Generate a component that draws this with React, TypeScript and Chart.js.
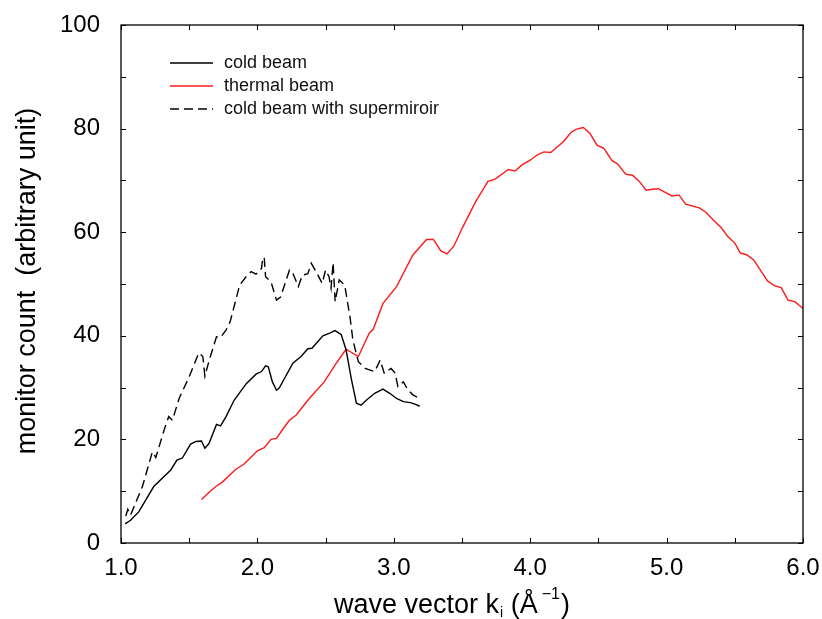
import React, { useEffect, useRef } from "react";
import { Chart, registerables } from "chart.js";

Chart.register(...registerables);

const FONT = "'Liberation Sans', Arial, Helvetica, sans-serif";

const coldX = [1.03, 1.07, 1.13, 1.24, 1.365, 1.41, 1.45, 1.51, 1.55, 1.59, 1.615, 1.645, 1.7, 1.73, 1.77, 1.83, 1.92, 1.99, 2.03, 2.06, 2.08, 2.11, 2.14, 2.16, 2.26, 2.32, 2.37, 2.4, 2.48, 2.53, 2.57, 2.615, 2.65, 2.69, 2.726, 2.76, 2.8, 2.86, 2.92, 2.97, 3.02, 3.07, 3.12, 3.155, 3.19];
const coldY = [3.7, 4.4, 6.0, 10.9, 14.1, 16.0, 16.4, 19.1, 19.6, 19.7, 18.3, 19.2, 22.9, 22.6, 24.4, 27.6, 30.8, 32.6, 33.1, 34.2, 34.0, 31.1, 29.5, 29.9, 34.7, 36.0, 37.5, 37.6, 40.0, 40.5, 41.0, 40.2, 37.3, 31.5, 27.0, 26.6, 27.6, 28.9, 29.7, 28.9, 27.9, 27.3, 27.1, 26.8, 26.4];

const thermalX = [1.59, 1.65, 1.7, 1.745, 1.84, 1.9, 1.94, 2.0, 2.05, 2.1, 2.14, 2.19, 2.235, 2.285, 2.38, 2.49, 2.57, 2.65, 2.74, 2.82, 2.85, 2.92, 3.02, 3.14, 3.24, 3.29, 3.345, 3.39, 3.44, 3.5, 3.6, 3.69, 3.74, 3.84, 3.89, 3.94, 4.0, 4.05, 4.1, 4.15, 4.245, 4.3, 4.34, 4.39, 4.44, 4.49, 4.54, 4.6, 4.64, 4.7, 4.75, 4.8, 4.85, 4.895, 4.94, 4.99, 5.04, 5.09, 5.14, 5.24, 5.29, 5.34, 5.4, 5.45, 5.5, 5.54, 5.59, 5.64, 5.69, 5.74, 5.79, 5.84, 5.89, 5.94, 5.99, 6.0];
const thermalY = [8.4, 9.9, 11.0, 11.8, 14.2, 15.2, 16.2, 17.8, 18.4, 20.0, 20.2, 22.1, 23.7, 24.7, 27.9, 31.1, 34.4, 37.4, 36.0, 40.5, 41.3, 46.2, 49.5, 55.6, 58.6, 58.6, 56.4, 55.8, 57.3, 60.7, 65.9, 69.8, 70.2, 72.1, 71.8, 73.0, 73.9, 74.9, 75.5, 75.4, 77.5, 79.3, 79.9, 80.2, 79.0, 76.8, 76.2, 73.8, 73.2, 71.2, 71.0, 69.8, 68.1, 68.3, 68.4, 67.7, 67.0, 67.2, 65.4, 64.7, 63.8, 62.4, 60.9, 59.1, 57.9, 56.0, 55.6, 54.6, 52.6, 50.6, 49.7, 49.3, 46.9, 46.6, 45.5, 45.3];

const superX = [1.035, 1.05, 1.07, 1.157, 1.23, 1.255, 1.316, 1.35, 1.377, 1.426, 1.5, 1.57, 1.6, 1.615, 1.647, 1.7, 1.73, 1.77, 1.8, 1.87, 1.917, 1.954, 1.99, 2.03, 2.04, 2.05, 2.06, 2.1, 2.14, 2.17, 2.235, 2.255, 2.3, 2.33, 2.37, 2.395, 2.43, 2.475, 2.5, 2.525, 2.54, 2.555, 2.57, 2.6, 2.64, 2.68, 2.7, 2.74, 2.79, 2.86, 2.9, 2.93, 2.98, 3.01, 3.03, 3.07, 3.105, 3.14, 3.19];
const superY = [5.2, 6.5, 5.4, 10.9, 17.6, 16.5, 21.8, 24.4, 23.7, 27.9, 32.1, 36.7, 36.0, 32.2, 35.3, 39.8, 39.7, 41.1, 42.7, 49.8, 51.4, 52.4, 51.9, 53.0, 55.1, 55.1, 51.4, 50.4, 46.9, 47.5, 52.7, 52.4, 49.5, 51.7, 52.0, 54.0, 52.4, 50.1, 52.7, 51.4, 49.2, 54.1, 46.6, 50.8, 49.8, 43.4, 39.2, 35.0, 33.7, 33.1, 35.3, 32.8, 33.7, 32.8, 30.2, 31.1, 29.5, 28.6, 27.9];

const seriesNames = ["cold beam", "thermal beam", "cold beam with supermiroir"];
const xLabelTicks = [1, 2, 3, 4, 5, 6];
const xMarkTicks = [1, 1.5, 2, 2.5, 3, 3.5, 4, 4.5, 5, 5.5, 6];
const yLabelTicks = [0, 20, 40, 60, 80, 100];
const yMarkTicks = [0, 10, 20, 30, 40, 50, 60, 70, 80, 90, 100];

const toPoints = (xs: number[], ys: number[]) => xs.map((x, i) => ({ x, y: ys[i] }));

const framePlugin = {
  id: "frame",
  afterDraw(chart: any) {
    const { ctx, chartArea: a, scales } = chart;
    const xs = scales.x;
    const ys = scales.y;
    ctx.save();
    ctx.strokeStyle = "#000";
    ctx.lineWidth = 1.3;
    ctx.strokeRect(a.left, a.top, a.right - a.left, a.bottom - a.top);
    const L = 5;
    ctx.beginPath();
    xMarkTicks.forEach((v) => {
      const p = Math.round(xs.getPixelForValue(v)) + 0.5;
      ctx.moveTo(p, a.bottom);
      ctx.lineTo(p, a.bottom - L);
      ctx.moveTo(p, a.top);
      ctx.lineTo(p, a.top + L);
    });
    yMarkTicks.forEach((v) => {
      const p = Math.round(ys.getPixelForValue(v)) + 0.5;
      ctx.moveTo(a.left, p);
      ctx.lineTo(a.left + L, p);
      ctx.moveTo(a.right, p);
      ctx.lineTo(a.right - L, p);
    });
    ctx.lineWidth = 1;
    ctx.stroke();

    // legend
    const rows = [a.top + 38, a.top + 61, a.top + 84];
    chart.data.datasets.forEach((ds: any, i: number) => {
      const y = rows[i];
      ctx.beginPath();
      ctx.strokeStyle = ds.borderColor;
      ctx.lineWidth = 1.3;
      ctx.setLineDash(ds.borderDash || []);
      ctx.moveTo(a.left + 49, y);
      ctx.lineTo(a.left + 92, y);
      ctx.stroke();
      ctx.setLineDash([]);
      ctx.fillStyle = "#111";
      ctx.font = `18px ${FONT}`;
      ctx.textBaseline = "middle";
      ctx.textAlign = "left";
      ctx.fillText(ds.label, a.left + 103, y);
    });

    // y title
    ctx.save();
    ctx.translate(35, (a.top + a.bottom) / 2 - 3);
    ctx.rotate(-Math.PI / 2);
    ctx.font = `27px ${FONT}`;
    ctx.fillStyle = "#000";
    ctx.textAlign = "center";
    ctx.textBaseline = "alphabetic";
    ctx.fillText("monitor count  (arbitrary unit)", 0, 0);
    ctx.restore();

    // x title with sub/superscripts
    const parts = [
      { t: "wave vector k", size: 27, dy: 0, gap: 0 },
      { t: "i", size: 14, dy: 4, gap: 1 },
      { t: " (Å", size: 27, dy: 0, gap: 0 },
      { t: "\u22121", size: 16, dy: -14, gap: 4 },
      { t: ")", size: 27, dy: 0, gap: 1 },
    ];
    let total = 0;
    parts.forEach((p) => {
      ctx.font = `${p.size}px ${FONT}`;
      total += ctx.measureText(p.t).width + p.gap;
    });
    let x = 452 - total / 2;
    const base = 613;
    ctx.fillStyle = "#000";
    ctx.textAlign = "left";
    ctx.textBaseline = "alphabetic";
    parts.forEach((p) => {
      ctx.font = `${p.size}px ${FONT}`;
      x += p.gap;
      ctx.fillText(p.t, x, base + p.dy);
      x += ctx.measureText(p.t).width;
    });
    ctx.restore();
  },
};

const zeroPad = (s: any) => {
  s.paddingTop = 0;
  s.paddingBottom = 0;
  s.paddingLeft = 0;
  s.paddingRight = 0;
};

export default function App() {
  const ref = useRef<HTMLCanvasElement | null>(null);
  useEffect(() => {
    if (!ref.current) return;
    const chart = new Chart(ref.current, {
      type: "line",
      data: {
        datasets: [
          {
            label: seriesNames[0],
            data: toPoints(coldX, coldY),
            borderColor: "#000000",
            borderWidth: 1.4,
            pointRadius: 0,
            tension: 0,
            fill: false,
          },
          {
            label: seriesNames[1],
            data: toPoints(thermalX, thermalY),
            borderColor: "#ff1a1a",
            borderWidth: 1.4,
            pointRadius: 0,
            tension: 0,
            fill: false,
          },
          {
            label: seriesNames[2],
            data: toPoints(superX, superY),
            borderColor: "#000000",
            borderWidth: 1.4,
            borderDash: [9, 5],
            pointRadius: 0,
            tension: 0,
            fill: false,
          },
        ],
      },
      options: {
        responsive: false,
        animation: false,
        devicePixelRatio: 1,
        layout: { padding: { top: 25, right: 19, left: 0, bottom: 0 } },
        plugins: { legend: { display: false }, tooltip: { enabled: false } },
        scales: {
          x: {
            type: "linear",
            min: 1,
            max: 6,
            grid: { display: false, drawTicks: false },
            border: { display: false },
            afterFit: (s: any) => {
              s.height = 76;
              zeroPad(s);
            },
            afterBuildTicks: (s: any) => {
              s.ticks = xLabelTicks.map((v) => ({ value: v }));
            },
            ticks: {
              padding: 11,
              color: "#000",
              font: { family: FONT, size: 24 },
              maxRotation: 0,
              callback: (v: any) => Number(v).toFixed(1),
            },
          },
          y: {
            type: "linear",
            min: 0,
            max: 100,
            grid: { display: false, drawTicks: false },
            border: { display: false },
            afterFit: (s: any) => {
              s.width = 121;
              zeroPad(s);
            },
            afterBuildTicks: (s: any) => {
              s.ticks = yLabelTicks.map((v) => ({ value: v }));
            },
            ticks: {
              padding: 21,
              color: "#000",
              font: { family: FONT, size: 24 },
              callback: (v: any) => String(v),
            },
          },
        },
      },
      plugins: [framePlugin],
    });
    return () => chart.destroy();
  }, []);
  return (
    <div style={{ position: "absolute", left: 0, top: 0, width: 822, height: 619, background: "#fff" }}>
      <canvas ref={ref} width={822} height={619} style={{ width: 822, height: 619, display: "block" }} />
    </div>
  );
}
